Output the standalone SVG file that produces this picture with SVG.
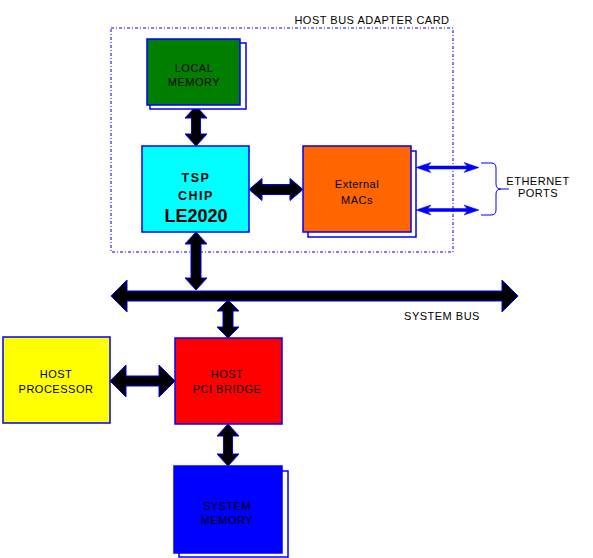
<svg xmlns="http://www.w3.org/2000/svg" width="593" height="558" viewBox="0 0 593 558">
<style>
.t{font-family:"Liberation Sans",Arial,sans-serif;font-size:11px;fill:#000;text-anchor:middle;letter-spacing:0.5px}
.b{font-family:"Liberation Sans",Arial,sans-serif;font-weight:bold;fill:#000;text-anchor:middle}
.box{stroke:#0000ff;stroke-width:1.5}
.sh{fill:#fff;stroke:#0000ff;stroke-width:1.5}
.ar{fill:#000;stroke:#0000ff;stroke-width:1}
.ea{fill:#0000ff;stroke:#0000ff;stroke-width:0.5}
</style>
<rect x="111" y="28" width="342" height="224" fill="none" stroke="#0000ff" stroke-width="1" stroke-dasharray="3,2,1,2"/>
<text class="t" x="372" y="24">HOST BUS ADAPTER CARD</text>
<g id="connectors">
<path class="ar" d="M196,106 L207,118 L200.5,118 L200.5,134 L207,134 L196,146 L185,134 L191.5,134 L191.5,118 L185,118 Z"/>
<path class="ar" d="M196,232 L207,244 L201,244 L201,278 L207,278 L196,290 L185,278 L191,278 L191,244 L185,244 Z"/>
<path class="ar" d="M228,300 L239,311 L233,311 L233,327 L239,327 L228,338 L217,327 L223,327 L223,311 L217,311 Z"/>
<path class="ar" d="M228,424 L239,436 L232.5,436 L232.5,454 L239,454 L228,466 L217,454 L223.5,454 L223.5,436 L217,436 Z"/>
<path class="ar" d="M249,189.5 L262,178.5 L262,184.5 L290,184.5 L290,178.5 L303,189.5 L290,200.5 L290,194.5 L262,194.5 L262,200.5 Z"/>
<path class="ar" d="M110,381 L126,365 L126,376 L159,376 L159,365 L175,381 L159,397 L159,386 L126,386 L126,397 Z"/>
<path class="ar" d="M111,296 L127,280 L127,291 L502,291 L502,280 L518,296 L502,312 L502,301 L127,301 L127,312 Z"/>
<path class="ea" d="M416,167.5 L431,162.5 L428,166 L467,166 L464,162.5 L479,167.5 L464,172.5 L467,169 L428,169 L431,172.5 Z"/>
<path class="ea" d="M416,210 L431,205 L428,208.5 L467,208.5 L464,205 L479,210 L464,215 L467,211.5 L428,211.5 L431,215 Z"/>
<path d="M481,163 L491,163 Q496,163 496,168 L496,184 Q496,189 501,189 L509,189 M501,189 Q496,189 496,194 L496,210 Q496,215 491,215 L481,215" fill="none" stroke="#0000ff" stroke-width="1"/>
</g>
<g id="local-memory">
<rect class="sh" x="150" y="43" width="96" height="66"/>
<rect class="box" x="147" y="39" width="93" height="66" fill="#007f00"/>
<text class="t" x="194" y="72">LOCAL</text>
<text class="t" x="194" y="86">MEMORY</text>
</g>
<g id="tsp-chip">
<rect class="box" x="142" y="146" width="107" height="86" fill="#00ffff"/>
<text class="b" x="196" y="182" font-size="12.5" letter-spacing="1.5">TSP</text>
<text class="b" x="196" y="200" font-size="12.5" letter-spacing="1.5">CHIP</text>
<text class="b" x="196" y="222" font-size="18">LE2020</text>
</g>
<g id="external-macs">
<rect class="sh" x="308" y="151" width="108" height="86"/>
<rect class="box" x="303" y="146" width="108" height="86" fill="#ff6600"/>
<text class="t" x="357" y="188" letter-spacing="0">External</text>
<text class="t" x="357" y="204">MACs</text>
</g>
<g id="ethernet-ports">
<text class="t" x="538" y="185">ETHERNET</text>
<text class="t" x="538" y="197">PORTS</text>
</g>
<g id="system-bus">
<text class="t" x="442" y="320">SYSTEM BUS</text>
</g>
<g id="host-processor">
<rect class="box" x="3" y="337" width="107" height="86" fill="#ffff00"/>
<text class="t" x="56" y="378">HOST</text>
<text class="t" x="56" y="393">PROCESSOR</text>
</g>
<g id="host-pci-bridge">
<rect class="box" x="175" y="338" width="107" height="86" fill="#ff0000"/>
<text class="t" x="227" y="378">HOST</text>
<text class="t" x="227" y="393">PCI BRIDGE</text>
</g>
<g id="system-memory">
<rect class="sh" x="179" y="471" width="109" height="86"/>
<rect class="box" x="174" y="466" width="108" height="87" fill="#0000ff"/>
<text class="t" x="227" y="510">SYSTEM</text>
<text class="t" x="227" y="524">MEMORY</text>
</g>
</svg>
